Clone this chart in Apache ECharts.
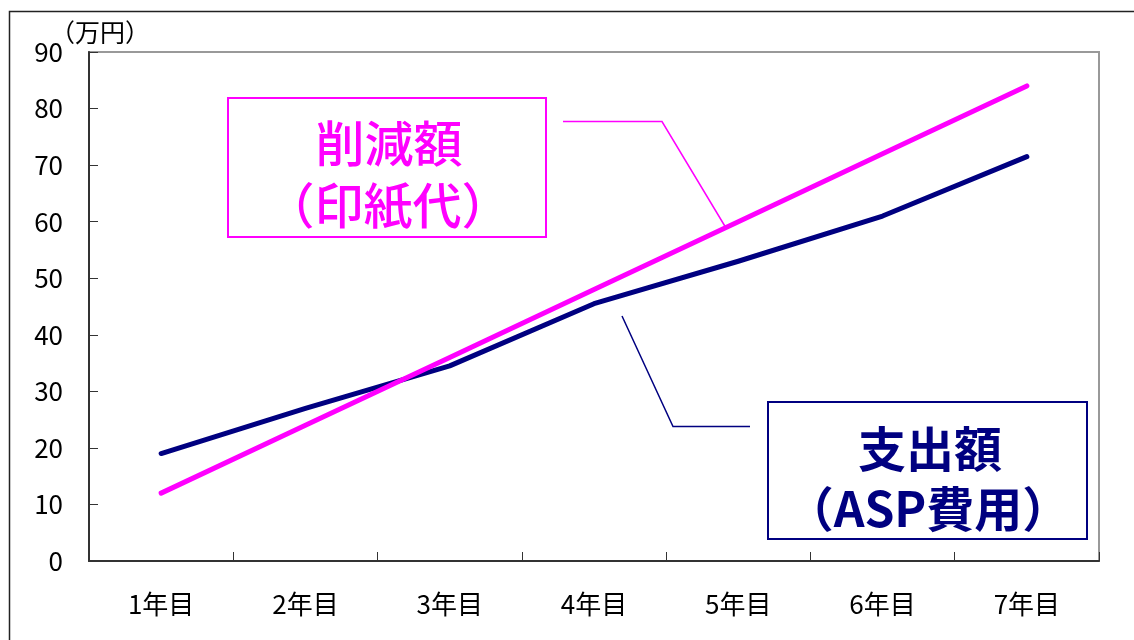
<!DOCTYPE html>
<html>
<head>
<meta charset="utf-8">
<script src="https://cdn.jsdelivr.net/npm/echarts@6/dist/echarts.min.js"></script>
<style>
html,body{margin:0;padding:0;background:#fff;}
#chart{width:1134px;height:640px;}
</style>
</head>
<body>
<div id="chart"></div>
<script>
const categories = ['1年目','2年目','3年目','4年目','5年目','6年目','7年目'];
const reductionValues = [12, 24, 36, 48, 60, 72, 84];
const expenseValues = [19, 27, 34.5, 45.5, 53, 61, 71.5];
const yTicks = { min: 0, max: 90, interval: 10 };
const unitLabel = '（万円）';
const reductionLabel = ['削減額', '（印紙代）'];
const expenseLabel = ['支出額', '（ASP費用）'];

const FONT = '"Noto Sans CJK JP", "Noto Sans", sans-serif';
const MAGENTA = '#FF00FF';
const NAVY = '#000080';

const chart = echarts.init(document.getElementById('chart'), null, { renderer: 'canvas' });

const option = {
  backgroundColor: '#ffffff',
  animation: false,
  grid: {
    left: 89, top: 52, right: 35, bottom: 79,
    show: true, borderColor: '#999999', borderWidth: 2, backgroundColor: 'transparent'
  },
  xAxis: {
    type: 'category',
    data: categories,
    boundaryGap: true,
    axisLine: { show: true, lineStyle: { color: '#333333', width: 2 } },
    axisTick: { show: true, inside: true, length: 9, lineStyle: { color: '#333333', width: 1 } },
    axisLabel: { color: '#000', fontSize: 26, fontFamily: FONT, margin: 30 },
    splitLine: { show: false }
  },
  yAxis: {
    type: 'value',
    min: yTicks.min, max: yTicks.max, interval: yTicks.interval,
    axisLine: { show: true, lineStyle: { color: '#333333', width: 2 } },
    axisTick: { show: true, inside: true, length: 9, lineStyle: { color: '#333333', width: 1 } },
    axisLabel: { color: '#000', fontSize: 26, fontFamily: FONT, margin: 26 },
    splitLine: { show: false }
  },
  series: [
    {
      name: '支出額', type: 'line', data: expenseValues, symbol: 'none',
      lineStyle: { color: NAVY, width: 5, cap: 'round', join: 'round' }, z: 2
    },
    {
      name: '削減額', type: 'line', data: reductionValues, symbol: 'none',
      lineStyle: { color: MAGENTA, width: 5, cap: 'round', join: 'round' }, z: 3
    }
  ],
  graphic: [
    { type: 'rect', silent: true, z: 0,
      shape: { x: 9.5, y: 11.5, width: 1200, height: 700 },
      style: { fill: 'none', stroke: '#222', lineWidth: 1.5 } },
    { type: 'text', z: 10, x: 100, y: 32,
      style: { text: unitLabel, fontSize: 25, fontFamily: FONT, fill: '#000', textVerticalAlign: 'middle', textAlign: 'center' } },
    // reduction annotation
    { type: 'rect', z: 10,
      shape: { x: 228, y: 98, width: 318, height: 139 },
      style: { fill: '#fff', stroke: MAGENTA, lineWidth: 2 } },
    { type: 'text', z: 11, x: 389, y: 143,
      style: { text: reductionLabel[0], fontSize: 49, fontWeight: 500, fontFamily: FONT, fill: MAGENTA, textAlign: 'center', textVerticalAlign: 'middle' } },
    { type: 'text', z: 11, x: 388, y: 205,
      style: { text: reductionLabel[1], fontSize: 49, fontWeight: 500, fontFamily: FONT, fill: MAGENTA, textAlign: 'center', textVerticalAlign: 'middle' } },
    { type: 'polyline', z: 10,
      shape: { points: [[563, 121.5], [662, 121.5], [726, 228]] },
      style: { fill: 'none', stroke: MAGENTA, lineWidth: 1.5 } },
    // expense annotation
    { type: 'rect', z: 10,
      shape: { x: 768, y: 402, width: 319, height: 137 },
      style: { fill: '#fff', stroke: NAVY, lineWidth: 2 } },
    { type: 'text', z: 11, x: 930, y: 449,
      style: { text: expenseLabel[0], fontSize: 48, fontWeight: 'bold', fontFamily: FONT, fill: NAVY, textAlign: 'center', textVerticalAlign: 'middle' } },
    { type: 'text', z: 11, x: 928, y: 509,
      style: { text: expenseLabel[1], fontSize: 48, fontWeight: 'bold', fontFamily: FONT, fill: NAVY, textAlign: 'center', textVerticalAlign: 'middle' } },
    { type: 'polyline', z: 10,
      shape: { points: [[750, 426.5], [673, 426.5], [622, 316]] },
      style: { fill: 'none', stroke: NAVY, lineWidth: 1.5 } }
  ]
};
chart.setOption(option);
</script>
</body>
</html>
